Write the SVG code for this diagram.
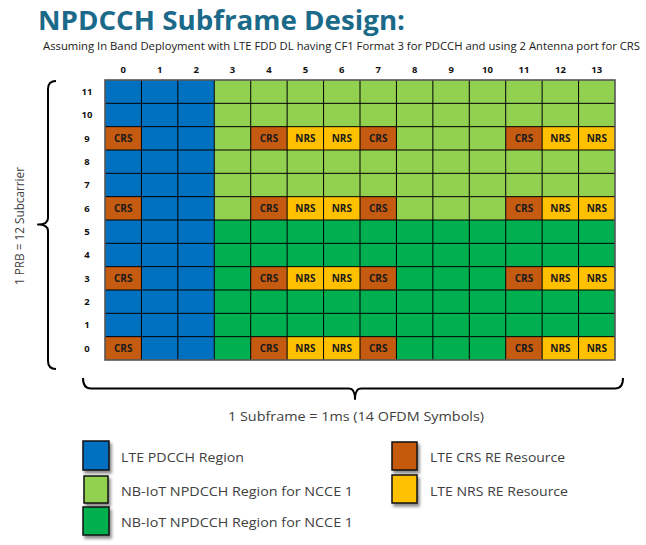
<svg xmlns="http://www.w3.org/2000/svg" width="646" height="545" viewBox="0 0 646 545">
<style>
.title{font-family:"Open Sans","Noto Sans",sans-serif;font-weight:bold;font-size:26px;fill:#1B6A8A}
.sub{font-family:"Open Sans","Noto Sans",sans-serif;font-size:10.8px;fill:#1a1a1a}
.ax{font-family:"Open Sans","Noto Sans",sans-serif;font-weight:bold;font-size:9.5px;fill:#111;text-anchor:middle}
.cell{font-family:"Open Sans","Noto Sans",sans-serif;font-weight:bold;font-size:10px;fill:#1a1a1a;text-anchor:middle}
.lbl{font-family:"Open Sans","Noto Sans",sans-serif;font-size:13px;fill:#404040}
.blue{fill:#0070C0}
.lg{fill:#92D050}
.dg{fill:#00B050}
.crs{fill:#C55A11}
.nrs{fill:#FFC000}
.grid{stroke:#000;stroke-width:1;fill:none}
.brace{stroke:#000;stroke-width:2;fill:none;stroke-linejoin:round}
.key{stroke:#111;stroke-width:1.5}
</style>
<defs>
<filter id="sh" x="-30%" y="-30%" width="170%" height="170%">
<feDropShadow dx="2" dy="3" stdDeviation="1.5" flood-color="#000" flood-opacity="0.45"/>
</filter>
</defs>
<rect width="646" height="545" fill="#fff"/>
<text class="title" x="38" y="30" textLength="367" lengthAdjust="spacingAndGlyphs">NPDCCH Subframe Design:</text>
<text class="sub" x="43" y="50" textLength="597" lengthAdjust="spacingAndGlyphs">Assuming In Band Deployment with LTE FDD DL having CF1 Format 3 for PDCCH and using 2 Antenna port for CRS</text>

<g id="column-labels">
<text class="ax" x="123.2" y="73">0</text><text class="ax" x="159.6" y="73">1</text><text class="ax" x="196.1" y="73">2</text><text class="ax" x="232.5" y="73">3</text><text class="ax" x="268.9" y="73">4</text><text class="ax" x="305.4" y="73">5</text><text class="ax" x="341.8" y="73">6</text><text class="ax" x="378.2" y="73">7</text><text class="ax" x="414.6" y="73">8</text><text class="ax" x="451.1" y="73">9</text><text class="ax" x="487.5" y="73">10</text><text class="ax" x="523.9" y="73">11</text><text class="ax" x="560.4" y="73">12</text><text class="ax" x="596.8" y="73">13</text>
</g>
<g id="row-labels">
<text class="ax" x="87" y="95">11</text><text class="ax" x="87" y="118.3">10</text><text class="ax" x="87" y="141.7">9</text><text class="ax" x="87" y="165">8</text><text class="ax" x="87" y="188.3">7</text><text class="ax" x="87" y="211.7">6</text><text class="ax" x="87" y="235">5</text><text class="ax" x="87" y="258.3">4</text><text class="ax" x="87" y="281.7">3</text><text class="ax" x="87" y="305">2</text><text class="ax" x="87" y="328.3">1</text><text class="ax" x="87" y="351.7">0</text>
</g>

<g id="grid">
<rect class="blue" x="105" y="80" width="109.29" height="280"/>
<rect class="lg" x="214.29" y="80" width="400.71" height="140"/>
<rect class="dg" x="214.29" y="220" width="400.71" height="140"/>
<g id="row9">
<rect class="crs" x="105" y="126.67" width="36.43" height="23.33"/>
<rect class="crs" x="250.71" y="126.67" width="36.43" height="23.33"/>
<rect class="nrs" x="287.14" y="126.67" width="72.86" height="23.33"/>
<rect class="crs" x="360" y="126.67" width="36.43" height="23.33"/>
<rect class="crs" x="505.71" y="126.67" width="36.43" height="23.33"/>
<rect class="nrs" x="542.14" y="126.67" width="72.86" height="23.33"/>
</g>
<g id="row6">
<rect class="crs" x="105" y="196.67" width="36.43" height="23.33"/>
<rect class="crs" x="250.71" y="196.67" width="36.43" height="23.33"/>
<rect class="nrs" x="287.14" y="196.67" width="72.86" height="23.33"/>
<rect class="crs" x="360" y="196.67" width="36.43" height="23.33"/>
<rect class="crs" x="505.71" y="196.67" width="36.43" height="23.33"/>
<rect class="nrs" x="542.14" y="196.67" width="72.86" height="23.33"/>
</g>
<g id="row3">
<rect class="crs" x="105" y="266.67" width="36.43" height="23.33"/>
<rect class="crs" x="250.71" y="266.67" width="36.43" height="23.33"/>
<rect class="nrs" x="287.14" y="266.67" width="72.86" height="23.33"/>
<rect class="crs" x="360" y="266.67" width="36.43" height="23.33"/>
<rect class="crs" x="505.71" y="266.67" width="36.43" height="23.33"/>
<rect class="nrs" x="542.14" y="266.67" width="72.86" height="23.33"/>
</g>
<g id="row0">
<rect class="crs" x="105" y="336.67" width="36.43" height="23.33"/>
<rect class="crs" x="250.71" y="336.67" width="36.43" height="23.33"/>
<rect class="nrs" x="287.14" y="336.67" width="72.86" height="23.33"/>
<rect class="crs" x="360" y="336.67" width="36.43" height="23.33"/>
<rect class="crs" x="505.71" y="336.67" width="36.43" height="23.33"/>
<rect class="nrs" x="542.14" y="336.67" width="72.86" height="23.33"/>
</g>
<path class="grid" d="M141.43 80V360M177.86 80V360M214.29 80V360M250.71 80V360M287.14 80V360M323.57 80V360M360 80V360M396.43 80V360M432.86 80V360M469.29 80V360M505.71 80V360M542.14 80V360M578.57 80V360M105 103.33H615M105 126.67H615M105 150H615M105 173.33H615M105 196.67H615M105 220H615M105 243.33H615M105 266.67H615M105 290H615M105 313.33H615M105 336.67H615"/>
<rect x="105" y="80" width="510" height="280" fill="none" stroke="#555" stroke-width="1.6"/>
<g id="cell-labels">
<text class="cell" x="123.2" y="142">CRS</text><text class="cell" x="268.9" y="142">CRS</text><text class="cell" x="305.4" y="142">NRS</text><text class="cell" x="341.8" y="142">NRS</text><text class="cell" x="378.2" y="142">CRS</text><text class="cell" x="523.9" y="142">CRS</text><text class="cell" x="560.4" y="142">NRS</text><text class="cell" x="596.8" y="142">NRS</text>
<text class="cell" x="123.2" y="212">CRS</text><text class="cell" x="268.9" y="212">CRS</text><text class="cell" x="305.4" y="212">NRS</text><text class="cell" x="341.8" y="212">NRS</text><text class="cell" x="378.2" y="212">CRS</text><text class="cell" x="523.9" y="212">CRS</text><text class="cell" x="560.4" y="212">NRS</text><text class="cell" x="596.8" y="212">NRS</text>
<text class="cell" x="123.2" y="282">CRS</text><text class="cell" x="268.9" y="282">CRS</text><text class="cell" x="305.4" y="282">NRS</text><text class="cell" x="341.8" y="282">NRS</text><text class="cell" x="378.2" y="282">CRS</text><text class="cell" x="523.9" y="282">CRS</text><text class="cell" x="560.4" y="282">NRS</text><text class="cell" x="596.8" y="282">NRS</text>
<text class="cell" x="123.2" y="352">CRS</text><text class="cell" x="268.9" y="352">CRS</text><text class="cell" x="305.4" y="352">NRS</text><text class="cell" x="341.8" y="352">NRS</text><text class="cell" x="378.2" y="352">CRS</text><text class="cell" x="523.9" y="352">CRS</text><text class="cell" x="560.4" y="352">NRS</text><text class="cell" x="596.8" y="352">NRS</text>
</g>
</g>

<g id="prb-brace">
<path class="brace" d="M56 81Q48 81 48 89V218Q48 224.5 38 224.5Q48 224.5 48 231V361Q48 369 56 369"/>
<text class="lbl" transform="translate(23.5 226) rotate(-90)" text-anchor="middle" font-size="14.5" textLength="118" lengthAdjust="spacingAndGlyphs">1 PRB = 12 Subcarrier</text>
</g>
<g id="subframe-brace">
<path class="brace" d="M83 378Q83 388.5 91 388.5H349Q355 388.5 355 399Q355 388.5 361 388.5H615Q623 388.5 623 378"/>
<text class="lbl" x="356" y="421" text-anchor="middle" textLength="256" lengthAdjust="spacingAndGlyphs">1 Subframe = 1ms (14 OFDM Symbols)</text>
</g>

<g id="legend-pdcch">
<rect class="key blue" x="83" y="441" width="26" height="29" filter="url(#sh)"/>
<text class="lbl" x="121" y="461.5" textLength="123" lengthAdjust="spacingAndGlyphs">LTE PDCCH Region</text>
</g>
<g id="legend-ncce1-light">
<rect class="key lg" x="84" y="476" width="24" height="27" filter="url(#sh)"/>
<text class="lbl" x="121" y="495.5" textLength="232" lengthAdjust="spacingAndGlyphs">NB-IoT NPDCCH Region for NCCE 1</text>
</g>
<g id="legend-ncce1-dark">
<rect class="key dg" x="83" y="507" width="26" height="28" filter="url(#sh)"/>
<text class="lbl" x="121" y="527" textLength="232" lengthAdjust="spacingAndGlyphs">NB-IoT NPDCCH Region for NCCE 1</text>
</g>
<g id="legend-crs">
<rect class="key crs" x="392" y="442" width="25" height="28" filter="url(#sh)"/>
<text class="lbl" x="430" y="461.5" textLength="135" lengthAdjust="spacingAndGlyphs">LTE CRS RE Resource</text>
</g>
<g id="legend-nrs">
<rect class="key nrs" x="392" y="475" width="25" height="28" filter="url(#sh)"/>
<text class="lbl" x="430" y="496" textLength="138" lengthAdjust="spacingAndGlyphs">LTE NRS RE Resource</text>
</g>
</svg>
